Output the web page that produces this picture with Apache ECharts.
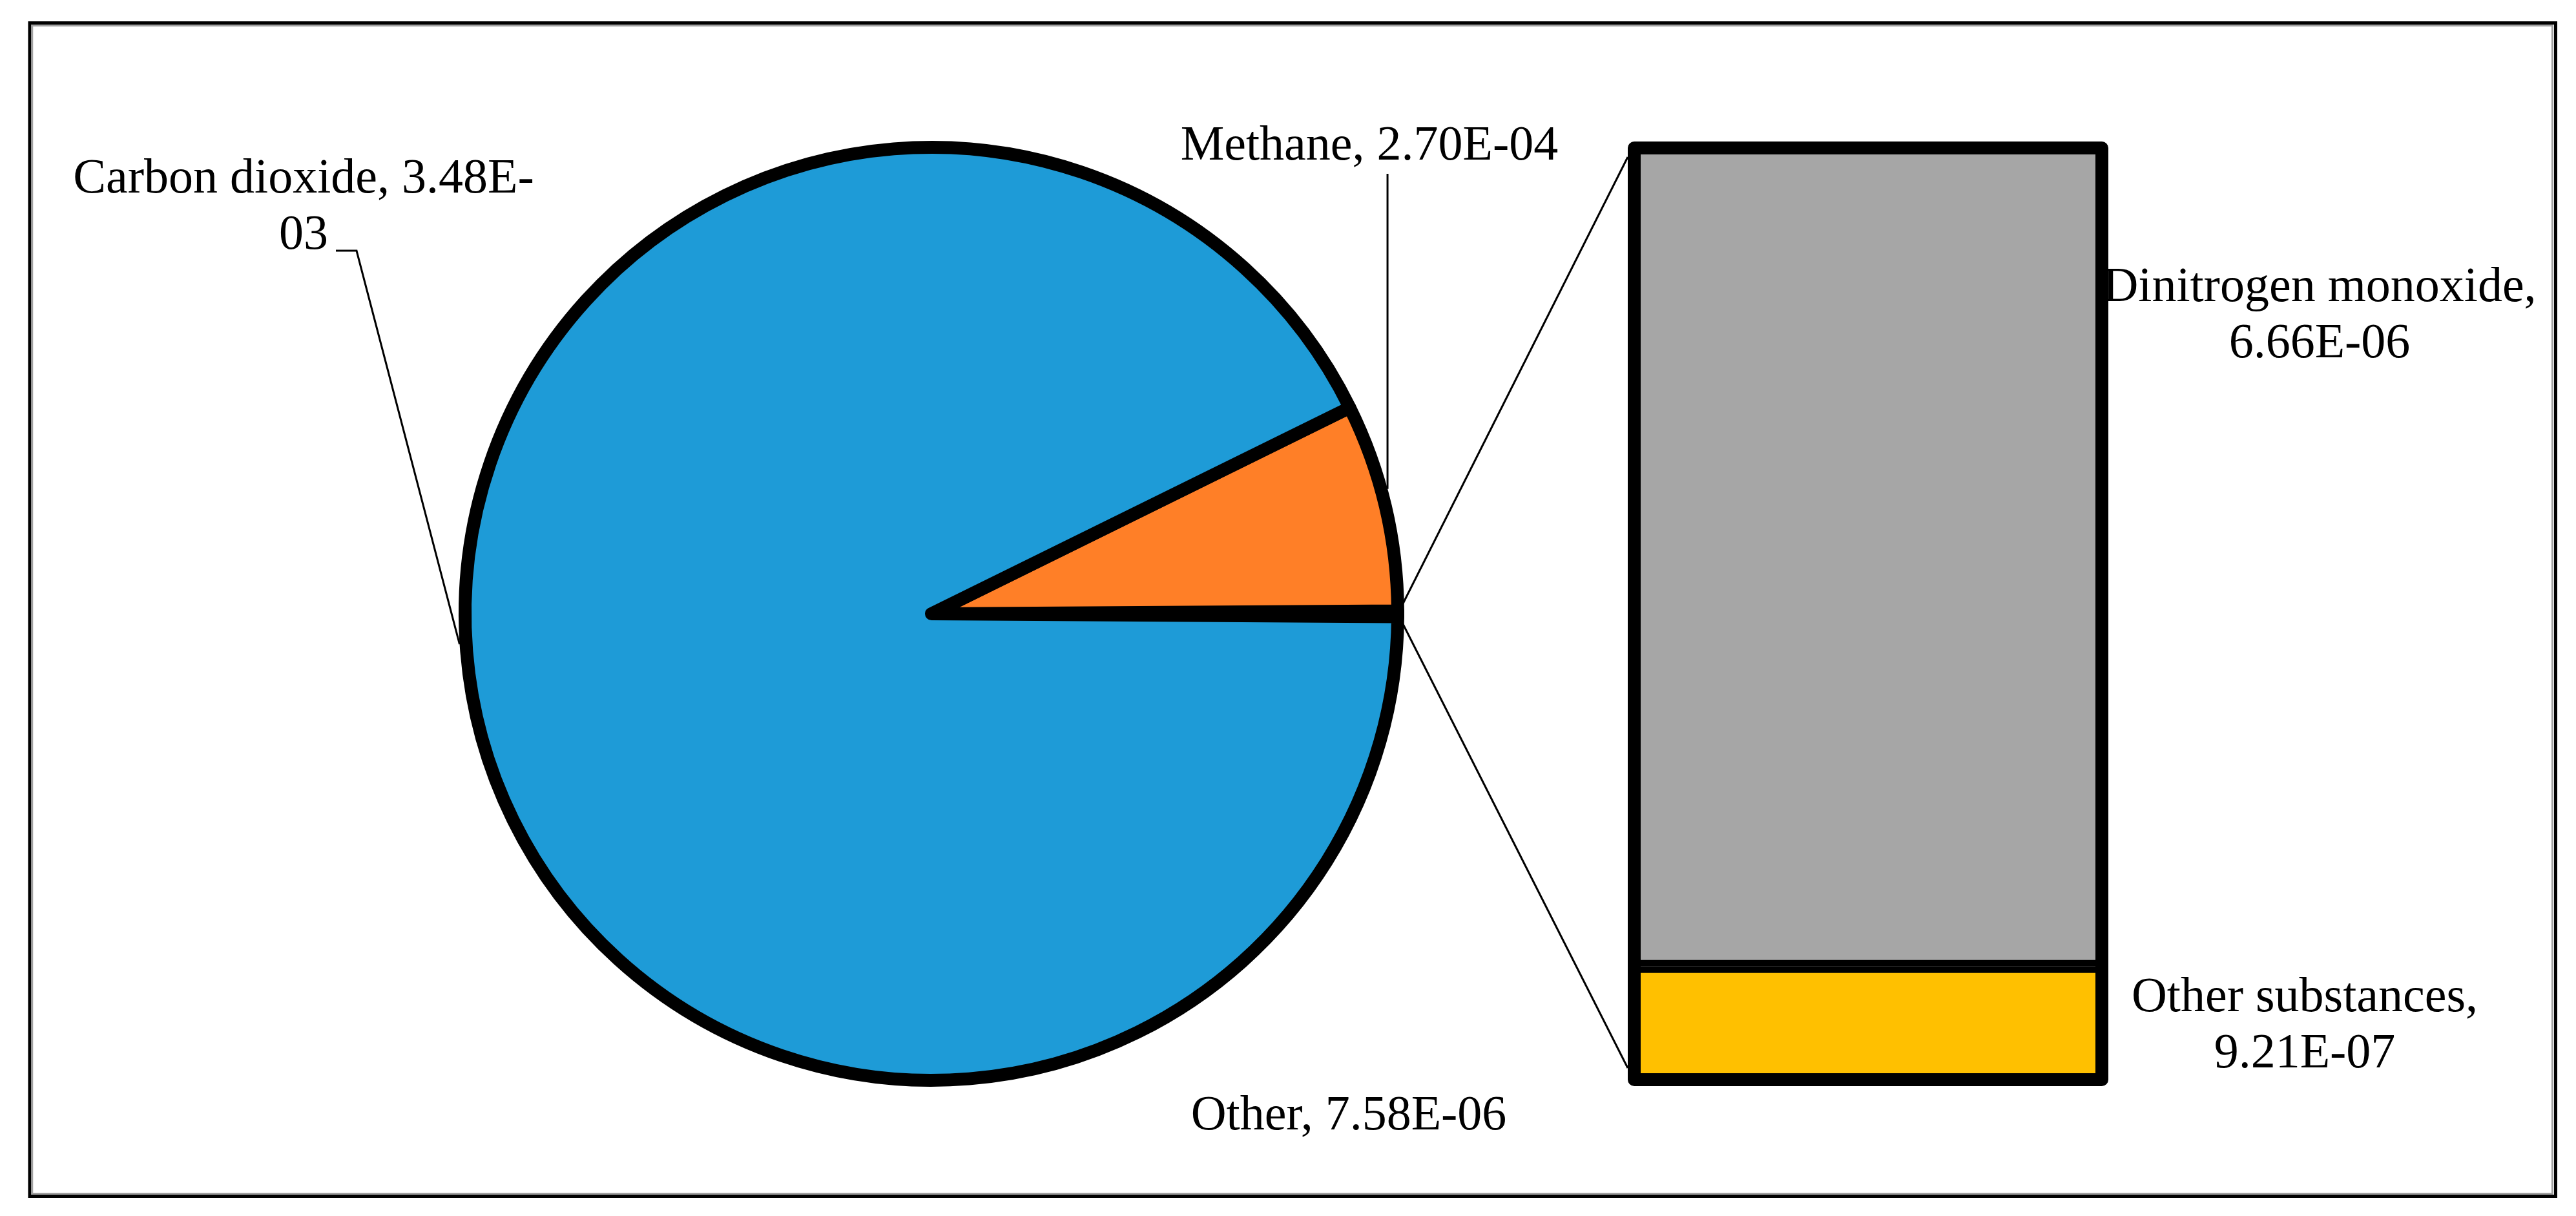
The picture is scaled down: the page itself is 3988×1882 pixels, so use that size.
<!DOCTYPE html>
<html><head><meta charset="utf-8">
<script src="https://cdn.jsdelivr.net/npm/echarts@6/dist/echarts.min.js"></script>
<style>html,body{margin:0;padding:0;background:#fff;} #chart{width:3988px;height:1882px;}</style>
</head><body><div id="chart"></div>
<script>
// ---- data ----
const pieNames = ['Carbon dioxide', 'Methane', 'Other'];
const pieValues = [3.48e-3, 2.70e-4, 7.58e-6];
const barNames = ['Dinitrogen monoxide', 'Other substances'];
const barValues = [6.66e-6, 9.21e-7];
const barCategory = ['Other'];

// ---- styles / layout ----
const pieColors = {'Carbon dioxide': '#1E9BD7', 'Methane': '#FF7F27', 'Other': '#A6A6A6'};
const barColors = {'Dinitrogen monoxide': '#A6A6A6', 'Other substances': '#FFC000'};
const FONT = '"Liberation Serif", "Times New Roman", serif';
const FS = 76, LH = 87;
const BW = 20;
const PIE = {cx: 1442, cy: 950, r: 722};
// outline grid: outer extents of the bar (ECharts insets bar borders inside the bar rect)
const GRID_OUT = {left: 2520, top: 219, width: 744, height: 1462};
// fill grid: border centre-line extents, so the divider sits where Excel puts it
const GRID_FILL = {left: 2520, top: 229, width: 744, height: 1442};
const wrapMode = {'Carbon dioxide': 'exp', 'Methane': 'none', 'Other': 'none',
  'Dinitrogen monoxide': 'comma', 'Other substances': 'comma'};
const labelPos = {
  'Carbon dioxide': {x: 470, y: 322},
  'Methane': {x: 2120, y: 227},
  'Other': {x: 2088, y: 1728},
  'Dinitrogen monoxide': {x: 3591, y: 490},
  'Other substances': {x: 3568, y: 1589}
};
const leaders = {
  'Carbon dioxide': {angle: 183.7, elbow: [552, 388], end: [520, 388]},
  'Methane': {angle: 15.3, endY: 269}
};

function sci(v) {
  const parts = v.toExponential(2).split('e');
  const n = parseInt(parts[1], 10);
  return parts[0] + 'E' + (n < 0 ? '-' : '+') + String(Math.abs(n)).padStart(2, '0');
}
function labelText(name, v) {
  const s = sci(v);
  const mode = wrapMode[name];
  if (mode === 'exp') {
    const k = s.indexOf('E') + 2;
    return name + ', ' + s.slice(0, k) + '\n' + s.slice(k);
  }
  if (mode === 'comma') return name + ',\n' + s;
  return name + ', ' + s;
}
function pieEdge(angleDeg) {
  const R = PIE.r + BW / 2;
  const a = angleDeg * Math.PI / 180;
  return [PIE.cx + R * Math.cos(a), PIE.cy - R * Math.sin(a)];
}

const pieTotal = pieValues.reduce((a, b) => a + b, 0);
const barTotal = barValues.reduce((a, b) => a + b, 0);
const otherIdx = pieNames.indexOf('Other');
const otherAngle = pieValues[otherIdx] / pieTotal * 360;
// counter-clockwise order starting with "Other" centred on 3 o'clock
const pieOrder = [2, 1, 0];
const pieData = pieOrder.map(i => ({
  name: pieNames[i], value: pieValues[i],
  itemStyle: {color: pieColors[pieNames[i]]},
  labelLine: {show: !!leaders[pieNames[i]]}
}));

const textStyle = {color: '#000', fontFamily: FONT, fontSize: FS, lineHeight: LH};

const chart = echarts.init(document.getElementById('chart'), null, {renderer: 'canvas'});

// stacked fills: half-width borders so adjacent segments form one full-width divider
const barSeries = [1, 0].map(i => ({
  type: 'bar', stack: 'other', name: barNames[i], data: [barValues[i]],
  xAxisIndex: 1, yAxisIndex: 1,
  barWidth: '100%', z: 3,
  itemStyle: {color: barColors[barNames[i]], borderColor: '#000', borderWidth: BW / 2},
  label: Object.assign({show: true, position: 'right',
    formatter: p => labelText(barNames[i], p.value)}, textStyle),
  labelLayout: () => ({x: labelPos[barNames[i]].x, y: labelPos[barNames[i]].y, align: 'center', verticalAlign: 'middle'}),
  emphasis: {disabled: true}
}));
// outline of the whole bar
barSeries.push({
  type: 'bar', name: 'outline', data: [barTotal], xAxisIndex: 0, yAxisIndex: 0,
  barWidth: '100%', z: 4,
  itemStyle: {color: 'rgba(0,0,0,0)', borderColor: '#000', borderWidth: BW, borderJoin: 'round'},
  label: {show: false}, emphasis: {disabled: true}, silent: true
});

const option = {
  animation: false,
  backgroundColor: '#fff',
  grid: [
    {left: GRID_OUT.left, top: GRID_OUT.top, width: GRID_OUT.width, height: GRID_OUT.height, containLabel: false},
    {left: GRID_FILL.left, top: GRID_FILL.top, width: GRID_FILL.width, height: GRID_FILL.height, containLabel: false}
  ],
  xAxis: [
    {type: 'category', data: barCategory, show: false, gridIndex: 0},
    {type: 'category', data: barCategory, show: false, gridIndex: 1}
  ],
  yAxis: [
    {type: 'value', min: 0, max: barTotal, show: false, gridIndex: 0},
    {type: 'value', min: 0, max: barTotal, show: false, gridIndex: 1}
  ],
  series: [{
    type: 'pie', center: [PIE.cx, PIE.cy], radius: [0, PIE.r],
    startAngle: -otherAngle / 2, clockwise: false, avoidLabelOverlap: false, z: 3,
    itemStyle: {borderColor: '#000', borderWidth: BW, borderJoin: 'round'},
    label: Object.assign({show: true, position: 'outside',
      formatter: p => labelText(p.name, p.value)}, textStyle),
    labelLine: {show: true, lineStyle: {color: '#000', width: 3}},
    labelLayout: p => {
      const name = pieData[p.dataIndex].name;
      const pos = labelPos[name];
      const res = {x: pos.x, y: pos.y, align: 'center', verticalAlign: 'middle'};
      const L = leaders[name];
      if (L) {
        const e = pieEdge(L.angle);
        if (L.elbow) res.labelLinePoints = [e, L.elbow, L.end];
        else res.labelLinePoints = [e, [e[0], L.endY]];
      }
      return res;
    },
    emphasis: {disabled: true},
    data: pieData
  }].concat(barSeries)
};
chart.setOption(option);

// series lines from the "Other" slice to the bar, via the bar's own scale
const topPt = chart.convertToPixel({gridIndex: 0}, [0, barTotal]);
const botPt = chart.convertToPixel({gridIndex: 0}, [0, 0]);
const barLeftOuter = topPt[0] - GRID_OUT.width / 2;
const otherMid = [PIE.cx + PIE.r, PIE.cy];

chart.setOption({
  graphic: [
    {type: 'rect', z: 0, silent: true, shape: {x: 46, y: 35.5, width: 3910.5, height: 1816},
      style: {fill: null, stroke: '#000', lineWidth: 5}},
    {type: 'rect', z: 0, silent: true, shape: {x: 49.75, y: 39.5, width: 3901.75, height: 1808},
      style: {fill: null, stroke: '#A0A0A0', lineWidth: 3}},
    {type: 'line', z: 1, silent: true,
      shape: {x1: otherMid[0], y1: otherMid[1], x2: barLeftOuter, y2: topPt[1] + 24},
      style: {stroke: '#000', lineWidth: 3}},
    {type: 'line', z: 1, silent: true,
      shape: {x1: otherMid[0], y1: otherMid[1], x2: barLeftOuter, y2: botPt[1] - 28},
      style: {stroke: '#000', lineWidth: 3}}
  ]
});
</script></body></html>
